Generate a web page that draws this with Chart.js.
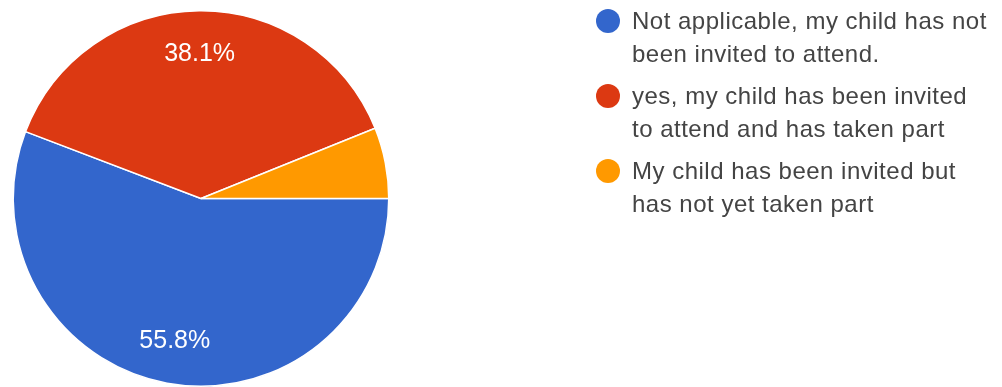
<!DOCTYPE html>
<html>
<head>
<meta charset="utf-8">
<script src="https://cdn.jsdelivr.net/npm/chart.js@4"></script>
<style>
  body { margin: 0; background: #fff; }
  #wrap { position: relative; width: 1002px; height: 387px; overflow: hidden; }
  #legend { position: absolute; left: 596px; top: 4px; font-family: "Liberation Sans", Arial, sans-serif; font-size: 24px; letter-spacing: 0.5px; color: #444; }
  .item { position: relative; padding-left: 36px; line-height: 33.4px; margin-bottom: 8.2px; white-space: nowrap; }
  .dot { position: absolute; left: 0; top: 4.5px; width: 24px; height: 24px; border-radius: 50%; }
</style>
</head>
<body>
<div id="wrap">
  <canvas id="canvas" width="1002" height="387"></canvas>
  <div id="legend"></div>
</div>
<script>
var labels = [
  ['Not applicable, my child has not', 'been invited to attend.'],
  ['yes, my child has been invited', 'to attend and has taken part'],
  ['My child has been invited but', 'has not yet taken part']
];
var values = [55.8, 38.1, 6.1];
var colors = ['#3366cc', '#dc3912', '#ff9900'];

// percent text inside the bigger slices
var pctLabels = {
  id: 'pctLabels',
  afterDatasetsDraw: function(chart) {
    var ctx = chart.ctx;
    var meta = chart.getDatasetMeta(0);
    ctx.save();
    ctx.fillStyle = '#fff';
    ctx.font = '25px "Liberation Sans", Arial, sans-serif';
    ctx.textAlign = 'center';
    ctx.textBaseline = 'middle';
    meta.data.forEach(function(arc, i) {
      if (values[i] < 10) return;
      var mid = (arc.startAngle + arc.endAngle) / 2;
      var r = arc.outerRadius * 0.77;
      ctx.fillText(values[i].toFixed(1) + '%', arc.x + Math.cos(mid) * r, arc.y + Math.sin(mid) * r);
    });
    ctx.restore();
  }
};

var ctx = document.getElementById('canvas').getContext('2d');
var myChart = new Chart(ctx, {
    type: 'pie',
    data: {
        labels: labels.map(function(l){ return l.join(' '); }),
        datasets: [{
            data: values,
            backgroundColor: colors,
            borderColor: '#fff',
            borderWidth: 1.5
        }]
    },
    options: {
        responsive: false,
        animation: false,
        rotation: 90,
        layout: { padding: { left: 10, top: 10, right: 610, bottom: 0 } },
        plugins: {
            legend: { display: false },
            tooltip: { enabled: false }
        }
    },
    plugins: [pctLabels]
});

var legend = document.getElementById('legend');
labels.forEach(function(l, i) {
    var div = document.createElement('div');
    div.className = 'item';
    div.innerHTML = '<span class="dot" style="background:' + colors[i] + '"></span>' + l.join('<br>');
    legend.appendChild(div);
});
</script>
</body>
</html>
